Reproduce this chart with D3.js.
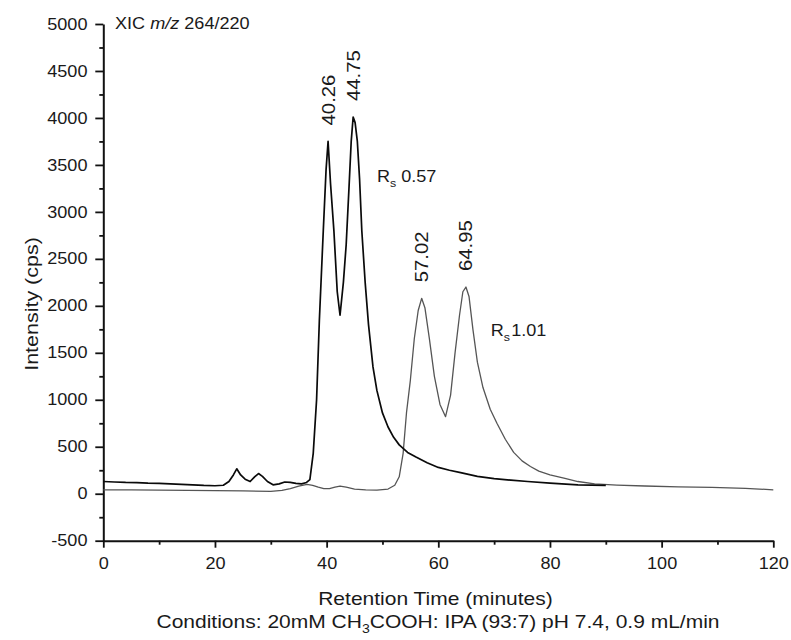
<!DOCTYPE html>
<html>
<head>
<meta charset="utf-8">
<script src="https://cdn.jsdelivr.net/npm/d3@7"></script>
<style>
  body { margin: 0; background: #fff; }
  svg { display: block; font-family: "Liberation Sans", Arial, Helvetica, sans-serif; }
</style>
</head>
<body>
<div id="chart"></div>
<script>
// first trace (black) - retention time (min) and intensity (cps)
const blackTime = [0, 2, 4, 6, 8, 10, 12, 14, 16, 18, 20, 21.5, 22.5, 23.3, 23.9, 24.6, 25.4, 26.3, 27.1, 27.8, 28.5, 29.4, 30.4, 31.5, 32.5, 33.5, 34.5, 35.5, 36.4,
  37.0, 37.6, 38.2, 38.7, 39.4, 39.9, 40.26, 40.7, 41.3, 41.9, 42.4, 43.0, 43.5, 44.0, 44.4, 44.75, 45.1, 45.5, 45.9, 46.3, 46.9, 47.5, 48.3, 49.0,
  50, 51, 52, 53, 54.5, 56, 58, 60, 62, 64, 67, 70, 73, 76, 80, 85, 90];
const blackCps = [130, 125, 120, 118, 112, 110, 105, 100, 95, 88, 85, 90, 130, 200, 265, 200, 155, 130, 180, 215, 185, 130, 95, 105, 125, 120, 110, 105, 120,
  150, 430, 1000, 1850, 2800, 3450, 3750, 3300, 2800, 2150, 1900, 2250, 2650, 3250, 3750, 4010, 3950, 3750, 3350, 2800, 2250, 1800, 1350, 1100,
  860, 710, 600, 520, 440, 390, 330, 280, 250, 225, 185, 160, 145, 130, 113, 95, 88];

// second trace (grey)
const greyTime = [0, 5, 10, 15, 20, 25, 30, 32, 33.5, 35, 36.5, 37.5, 38.5, 39.5, 40.5, 41.5, 42.4, 43.5, 45, 47, 49, 51, 52.2,
  53.0, 53.7, 54.3, 55.0, 55.7, 56.4, 57.02, 57.6, 58.4, 59.3, 60.3, 61.3, 62.2, 63.0, 63.8, 64.4, 64.95, 65.5, 66.2, 67.0, 68.0,
  69.3, 70.5, 72, 73.5, 75, 76.5, 78, 80, 82.5, 85, 88, 92, 97, 103, 109, 115, 120];
const greyCps = [42, 40, 38, 35, 32, 30, 25, 35, 55, 80, 100, 90, 70, 55, 55, 70, 82, 70, 50, 42, 38, 50, 90,
  180, 430, 860, 1210, 1650, 1950, 2080, 1980, 1650, 1250, 950, 820, 1050, 1500, 1900, 2150, 2200, 2100, 1750, 1400, 1130,
  900, 750, 580, 440, 350, 290, 240, 200, 165, 130, 105, 92, 82, 72, 68, 58, 42];

const peakTimes = [40.26, 44.75, 57.02, 64.95];
const peakHeights = [3750, 4010, 2080, 2200];

const xTicks = [0, 20, 40, 60, 80, 100, 120];
const xMinor = [10, 30, 50, 70, 90, 110];
const yTicks = [-500, 0, 500, 1000, 1500, 2000, 2500, 3000, 3500, 4000, 4500, 5000];
const yMinor = [-250, 250, 750, 1250, 1750, 2250, 2750, 3250, 3750, 4250, 4750];

const width = 791, height = 640;
const wide = 1.13; // the type in the figure is wider than Arial

const svg = d3.select("#chart")
  .append("svg")
  .attr("width", width)
  .attr("height", height);

const xScale = d3.scaleLinear().domain([0, 120]).range([103.3, 773.3]);
const yScale = d3.scaleLinear().domain([-500, 5000]).range([540.7, 24]);

// axes
svg.append("g")
  .attr("transform", `translate(0,${yScale(-500)})`)
  .call(d3.axisBottom(xScale).tickValues(xTicks).tickFormat(d => String(d))
    .tickSize(7).tickSizeOuter(0).tickPadding(10));
svg.append("g")
  .attr("transform", `translate(0,${yScale(-500)})`)
  .call(d3.axisBottom(xScale).tickValues(xMinor).tickSize(4).tickFormat(""))
  .call(g => g.select(".domain").remove());

svg.append("g")
  .attr("transform", `translate(${xScale(0)},0)`)
  .call(d3.axisLeft(yScale).tickValues(yTicks).tickFormat(d => String(d))
    .tickSize(8).tickSizeOuter(0).tickPadding(6));
svg.append("g")
  .attr("transform", `translate(${xScale(0)},0)`)
  .call(d3.axisLeft(yScale).tickValues(yMinor).tickSize(4).tickFormat(""))
  .call(g => g.select(".domain").remove());

svg.selectAll(".domain").attr("stroke", "#111").attr("stroke-width", 2);
svg.selectAll(".tick line").attr("stroke", "#111").attr("stroke-width", 1.8);
svg.selectAll(".tick text")
  .attr("font-size", 16)
  .attr("font-family", "Liberation Sans, Arial, sans-serif")
  .attr("fill", "#1a1a1a")
  .attr("transform", `scale(${wide},1)`);

// traces
const line = d3.line()
  .x(d => xScale(d[0]))
  .y(d => yScale(d[1]));

svg.append("path")
  .attr("d", line(d3.zip(greyTime, greyCps)))
  .attr("fill", "none")
  .attr("stroke", "#555")
  .attr("stroke-width", 1.3)
  .attr("stroke-linejoin", "round");

svg.append("path")
  .attr("d", line(d3.zip(blackTime, blackCps)))
  .attr("fill", "none")
  .attr("stroke", "#0a0a0a")
  .attr("stroke-width", 1.7)
  .attr("stroke-linejoin", "round");

// text helper, stretched along its reading direction
function addText(x, y, size, angle) {
  return svg.append("text")
    .attr("transform", `translate(${x},${y}) rotate(${angle || 0}) scale(${wide},1)`)
    .attr("font-size", size)
    .attr("fill", "#1a1a1a");
}

// peak retention times
peakTimes.forEach((t, i) => {
  addText(xScale(t), yScale(peakHeights[i]) - 16, 18, -90)
    .attr("dy", "0.36em")
    .text(t.toFixed(2));
});

// resolution labels
const rs1 = addText(xScale(49), yScale(3321), 16);
rs1.append("tspan").text("R");
rs1.append("tspan").attr("font-size", 11).attr("dy", 5).text("s");
rs1.append("tspan").attr("dy", -5).text(" 0.57");

const rs2 = addText(xScale(69.4), yScale(1679), 16);
rs2.append("tspan").text("R");
rs2.append("tspan").attr("font-size", 11).attr("dy", 5).text("s");
rs2.append("tspan").attr("dy", -5).attr("dx", 1).text("1.01");

// XIC title
const xic = addText(115, 28.7, 16);
xic.append("tspan").text("XIC ");
xic.append("tspan").attr("font-style", "italic").text("m/z");
xic.append("tspan").text(" 264/220");

// axis titles
addText(38, 304, 19, -90)
  .attr("text-anchor", "middle")
  .text("Intensity (cps)");

addText(435.5, 605, 18.6)
  .attr("text-anchor", "middle")
  .text("Retention Time (minutes)");

const cond = addText(438, 628, 18.6).attr("text-anchor", "middle");
cond.append("tspan").text("Conditions: 20mM CH");
cond.append("tspan").attr("font-size", 12.5).attr("dy", 5).text("3");
cond.append("tspan").attr("dy", -5).text("COOH: IPA (93:7) pH 7.4, 0.9 mL/min");
</script>
</body>
</html>
